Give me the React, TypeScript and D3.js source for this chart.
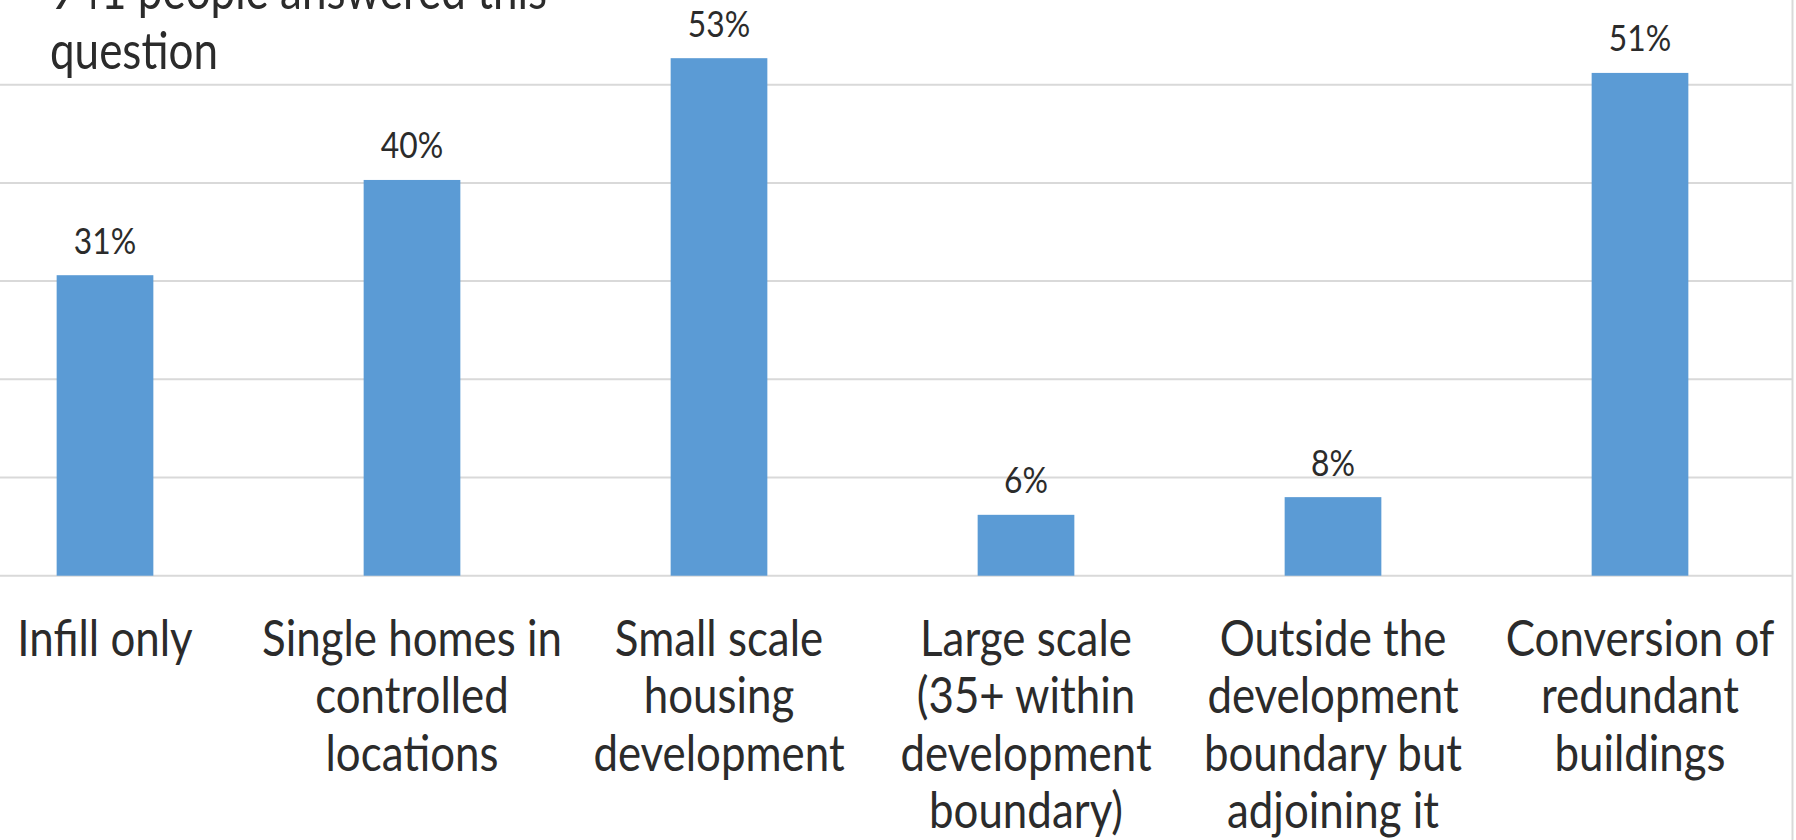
import React from "react";
import * as d3 from "d3";

const categories = [
  "Infill only",
  "Single homes in\ncontrolled\nlocations",
  "Small scale\nhousing\ndevelopment",
  "Large scale\n(35+ within\ndevelopment\nboundary)",
  "Outside the\ndevelopment\nboundary but\nadjoining it",
  "Conversion of\nredundant\nbuildings",
];
const values = [30.6, 40.3, 52.7, 6.2, 8.0, 51.2];
const yTicks = [0, 10, 20, 30, 40, 50, 60];
const titleLines = ["941 people answered this", "question"];

const W = 1796;
const H = 840;
const FONT = "Lato, Calibri, 'Open Sans', sans-serif";
const SX = 0.86;
const TEXT = "#2b2b2b";

export default function App() {
  const x = d3
    .scaleBand<string>()
    .domain(categories)
    .range([-48.5, 1793.5])
    .padding(0);
  const y = d3.scaleLinear().domain([0, 60]).range([575.7, -13.5]);
  const barW = x.bandwidth() * 0.315;
  const fmt = (v: number) => `${d3.format(".0f")(v)}%`;

  return (
    <div style={{ position: "absolute", left: 0, top: 0 }}>
      <svg width={W} height={H} style={{ display: "block", background: "#fff" }}>
        {yTicks.map((t) => (
          <line
            key={t}
            x1={0}
            x2={1793}
            y1={y(t)}
            y2={y(t)}
            stroke="#d9d9d9"
            strokeWidth={2}
          />
        ))}
        <line x1={1792.5} x2={1792.5} y1={0} y2={H} stroke="#d9d9d9" strokeWidth={2} />
        {categories.map((c, i) => {
          const cx = (x(c) as number) + x.bandwidth() / 2;
          return (
            <g key={c}>
              <rect
                x={cx - barW / 2}
                y={y(values[i])}
                width={barW}
                height={y(0) - y(values[i])}
                fill="#5b9bd5"
              />
              <text
                transform={`translate(${cx},${y(values[i]) - 21.5}) scale(${SX},1)`}
                textAnchor="middle"
                fontFamily={FONT}
                fontSize={37}
                fill={TEXT}
              >
                {fmt(values[i])}
              </text>
              {c.split("\n").map((ln, j) => (
                <text
                  key={j}
                  transform={`translate(${cx},${656 + j * 57.3}) scale(${SX},1)`}
                  textAnchor="middle"
                  fontFamily={FONT}
                  fontSize={51}
                  fill={TEXT}
                >
                  {ln}
                </text>
              ))}
            </g>
          );
        })}
        {titleLines.map((t, j) => (
          <text
            key={t}
            transform={`translate(50,${9 + j * 60}) scale(${SX * 0.965},1)`}
            fontFamily={FONT}
            fontSize={53}
            fill={TEXT}
          >
            {t}
          </text>
        ))}
      </svg>
    </div>
  );
}
